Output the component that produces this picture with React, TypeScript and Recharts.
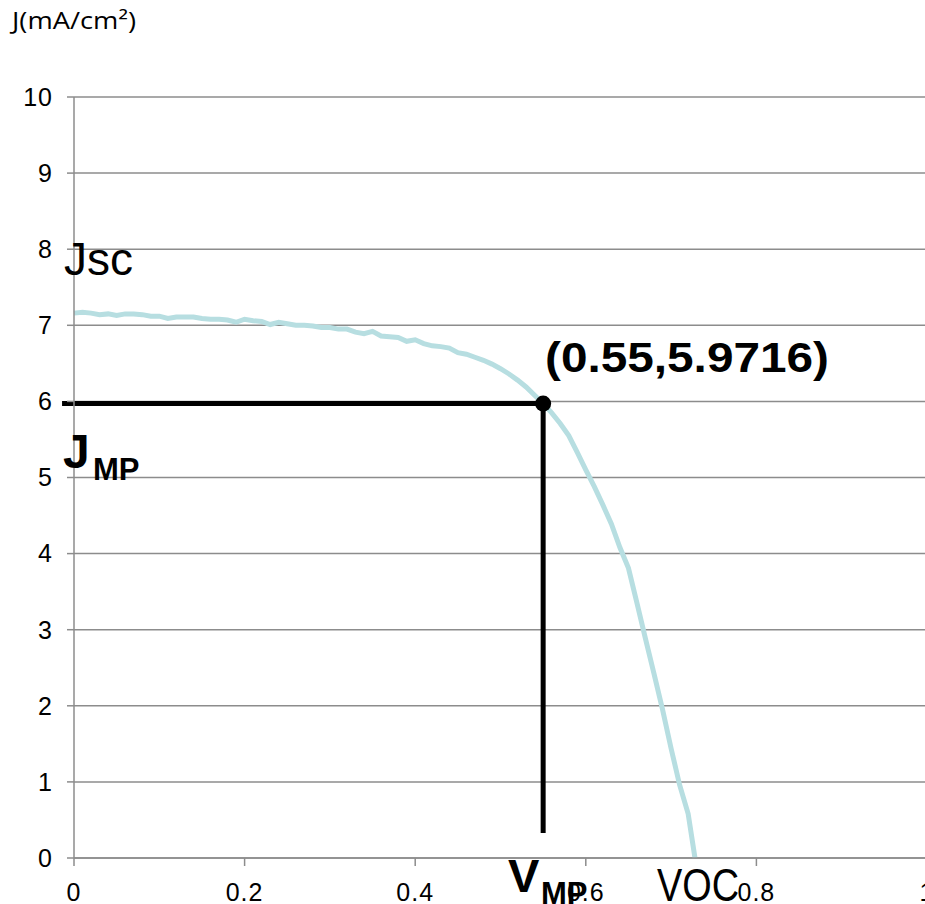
import React from 'react';
import {
  LineChart,
  Line,
  XAxis,
  YAxis,
  CartesianGrid,
  ReferenceLine,
  ReferenceDot
} from 'recharts';

// J-V curve of the cell, voltage in V, current density in mA/cm²
const voltage = [
  0.0, 0.01, 0.02, 0.03, 0.04, 0.05, 0.06, 0.07, 0.08, 0.09,
  0.1, 0.11, 0.12, 0.13, 0.14, 0.15, 0.16, 0.17, 0.18, 0.19,
  0.2, 0.21, 0.22, 0.23, 0.24, 0.25, 0.26, 0.27, 0.28, 0.29,
  0.3, 0.31, 0.32, 0.33, 0.34, 0.35, 0.36, 0.37, 0.38, 0.39,
  0.4, 0.41, 0.42, 0.43, 0.44, 0.45, 0.46, 0.47, 0.48, 0.49,
  0.5, 0.51, 0.52, 0.53, 0.54, 0.55, 0.56, 0.57, 0.58, 0.59,
  0.6, 0.61, 0.62, 0.63, 0.64, 0.65, 0.66, 0.67, 0.68, 0.69,
  0.7, 0.71, 0.72, 0.728
];
const currentDensity = [
  7.16, 7.17, 7.16, 7.14, 7.15, 7.13, 7.15, 7.15, 7.14, 7.12,
  7.12, 7.09, 7.11, 7.11, 7.11, 7.09, 7.08, 7.08, 7.07, 7.04,
  7.08, 7.06, 7.05, 7.01, 7.04, 7.02, 7.0, 7.0, 6.99, 6.97,
  6.97, 6.95, 6.95, 6.91, 6.89, 6.92, 6.86, 6.85, 6.84, 6.79,
  6.81, 6.76, 6.73, 6.72, 6.7, 6.64, 6.62, 6.58, 6.54, 6.49,
  6.43, 6.36, 6.28, 6.19, 6.08, 5.9716, 5.85, 5.71, 5.55, 5.33,
  5.1, 4.88, 4.64, 4.39, 4.08, 3.81, 3.35, 2.88, 2.42, 1.95,
  1.44, 0.96, 0.58, 0.0
];

const xTicks = [0, 0.2, 0.4, 0.6, 0.8, 1];
const yTicks = [0, 1, 2, 3, 4, 5, 6, 7, 8, 9, 10];

// maximum power point and the guide lines drawn to it
const mpVoltage = 0.55;
const mpCurrent = 5.9716;
const guideStartV = -0.014;
const guideEndJ = 0.33;

const data = voltage.map((v, i) => ({ v, j: currentDensity[i] }));

const gridColor = '#8c8c8c';
const curveColor = '#b7dee1';

export default function App() {
  return (
    <div
      style={{
        position: 'absolute',
        left: 0,
        top: 0,
        width: 925,
        height: 904,
        overflow: 'hidden',
        background: '#fff',
        fontFamily: '"Liberation Sans", Arial, sans-serif'
      }}
    >
      <LineChart
        width={940}
        height={904}
        data={data}
        margin={{ top: 97, right: 13, bottom: 0, left: 0 }}
      >
        <CartesianGrid vertical={false} stroke={gridColor} strokeWidth={1.5} />
        <XAxis
          dataKey="v"
          type="number"
          domain={[0, 1]}
          ticks={xTicks}
          interval={0}
          height={46}
          tickSize={8}
          tickMargin={17}
          stroke={gridColor}
          strokeWidth={1.5}
          tick={{ fill: '#000', fontSize: 25, letterSpacing: 1 }}
        />
        <YAxis
          type="number"
          domain={[0, 10]}
          ticks={yTicks}
          interval={0}
          width={74}
          tickSize={7}
          tickMargin={14}
          stroke={gridColor}
          strokeWidth={1.5}
          tick={{ fill: '#000', fontSize: 25, letterSpacing: 1 }}
        />
        <Line
          type="linear"
          dataKey="j"
          stroke={curveColor}
          strokeWidth={5}
          dot={false}
          isAnimationActive={false}
        />
        <ReferenceLine
          segment={[
            { x: guideStartV, y: mpCurrent },
            { x: mpVoltage, y: mpCurrent }
          ]}
          stroke="#000"
          strokeWidth={5}
          ifOverflow="visible"
        />
        <ReferenceLine
          segment={[
            { x: mpVoltage, y: guideEndJ },
            { x: mpVoltage, y: mpCurrent }
          ]}
          stroke="#000"
          strokeWidth={5}
          ifOverflow="visible"
        />
        <ReferenceDot
          x={mpVoltage}
          y={mpCurrent}
          r={8}
          fill="#000"
          stroke="none"
          ifOverflow="visible"
        />
      </LineChart>

      {/* axis title and curve annotations */}
      <svg
        width={925}
        height={904}
        style={{ position: 'absolute', left: 0, top: 0, pointerEvents: 'none' }}
        fontFamily='"Liberation Sans", Arial, sans-serif'
      >
        <text
          x={12}
          y={29}
          fontSize={23}
          fontFamily='"Open Sans", sans-serif'
          textLength={124}
          lengthAdjust="spacingAndGlyphs"
        >
          J(mA/cm²)
        </text>
        <text x={64} y={275} fontSize={46}>
          Jsc
        </text>
        <text x={63} y={468} fontSize={48} fontWeight="bold">
          J
          <tspan x={93} y={480} fontSize={31}>
            MP
          </tspan>
        </text>
        <text x={508} y={892} fontSize={47} fontWeight="bold">
          V
          <tspan x={541} y={904} fontSize={31}>
            MP
          </tspan>
        </text>
        <text
          x={657}
          y={901}
          fontSize={47}
          textLength={82}
          lengthAdjust="spacingAndGlyphs"
        >
          VOC
        </text>
        <text
          x={545}
          y={372}
          fontSize={43}
          fontWeight="bold"
          textLength={284}
          lengthAdjust="spacingAndGlyphs"
        >
          ({mpVoltage},{mpCurrent})
        </text>
      </svg>
    </div>
  );
}
